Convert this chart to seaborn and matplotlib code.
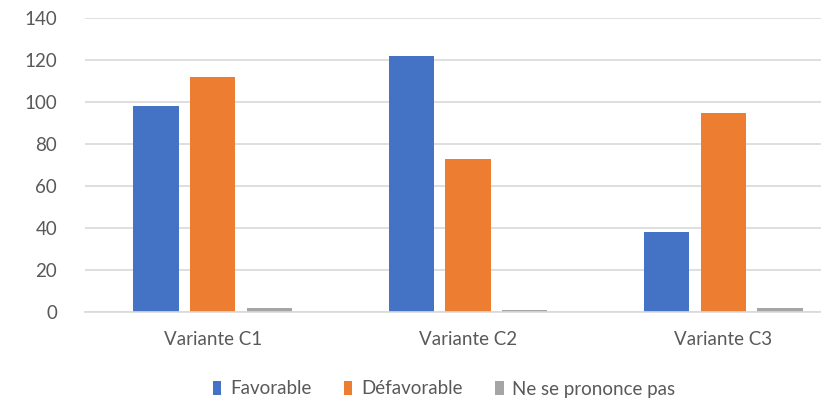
import matplotlib
matplotlib.use("Agg")
import matplotlib.pyplot as plt
import seaborn as sns
import pandas as pd

variantes = ["Variante C1", "Variante C2", "Variante C3"]
series = ["Favorable", "Défavorable", "Ne se prononce pas"]
favorable = [98, 122, 38]
defavorable = [112, 73, 95]
ne_se_prononce = [2, 1, 2]
couleurs = ["#4472C4", "#ED7D31", "#A5A5A5"]

df = pd.DataFrame({
    "variante": variantes * 3,
    "avis": [s for s in series for _ in variantes],
    "nombre": favorable + defavorable + ne_se_prononce,
})

sns.set_theme(style="white")
plt.rcParams["font.family"] = ["Lato", "DejaVu Sans"]
texte = "#595959"

fig = plt.figure(figsize=(8.21, 4.01), dpi=100)
ax = fig.add_axes([85 / 821, 1 - 312 / 401, 766 / 821, 294 / 401])

sns.barplot(data=df, x="variante", y="nombre", hue="avis", hue_order=series,
            palette=couleurs, width=0.665, gap=0.2, saturation=1, ax=ax,
            legend=True, edgecolor="none")

ax.set_ylim(0, 140)
ax.set_yticks(range(0, 141, 20))
ax.set_xlim(-0.5, 2.5)
ax.yaxis.grid(True, color="#D9D9D9", linewidth=1.2)
ax.set_axisbelow(True)
for side in ["top", "right", "left"]:
    ax.spines[side].set_visible(False)
ax.spines["bottom"].set_color("#D9D9D9")
ax.spines["bottom"].set_linewidth(1.2)
ax.tick_params(axis="both", length=0, labelsize=13.5, colors=texte)
ax.tick_params(axis="x", pad=14)
ax.tick_params(axis="y", pad=20)
ax.set_xlabel("")
ax.set_ylabel("")

handles, labels = ax.get_legend_handles_labels()
leg = ax.legend(handles, labels, loc="center",
                bbox_to_anchor=(444 / 821, 1 - 389 / 401),
                bbox_transform=fig.transFigure,
                ncol=3, frameon=False, fontsize=13.5, handlelength=0.45,
                handleheight=0.7, handletextpad=0.45, columnspacing=1.75,
                labelcolor=texte)

fig.savefig("out.png", dpi=100)
